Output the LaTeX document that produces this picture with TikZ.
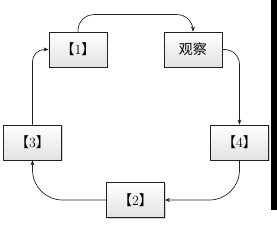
\documentclass[tikz,border=0pt]{standalone}
\usepackage{fontspec}
\newfontfamily\cjk{Noto Sans CJK SC}
\usetikzlibrary{arrows.meta,shadows}
\definecolor{ink}{HTML}{222222}
\definecolor{boxtop}{HTML}{FFFFFF}
\definecolor{boxbot}{HTML}{E2E2E2}
\newcommand{\bkt}[1]{{\cjk 【}#1{\cjk 】}}
\tikzset{
  stage/.style={draw=ink, line width=0.8pt, minimum width=58pt, minimum height=35pt, inner sep=0pt, top color=boxtop, bottom color=boxbot, drop shadow={shadow xshift=1.2pt, shadow yshift=-1.2pt, opacity=.35}, font=\fontsize{14}{16}\selectfont},
  arrow/.style={-{Stealth[length=5pt,width=4pt]}, draw=ink, line width=0.7pt}
}

\begin{document}
\begin{tikzpicture}[x=1pt, y=1pt]
  \useasboundingbox (0,0) rectangle (277,225);

  \node[stage] (one) at (78,175.5) {\bkt{1}};
  \node[stage] (watch) at (193,175.5) {\cjk 观察};
  \node[stage] (four) at (239.5,82.5) {\bkt{4}};
  \node[stage] (two) at (135.5,25) {\bkt{2}};
  \node[stage] (three) at (32.5,82.5) {\bkt{3}};

  \draw[arrow, rounded corners=16pt] (one.north) -- ++(0,17) -| (watch.north);
  \draw[arrow, rounded corners=15pt] (watch.east) -| (four.north);
  \draw[arrow, rounded corners=30pt] (four.south) |- (two.east);
  \draw[arrow, rounded corners=30pt] (two.west) -| (three.south);
  \draw[arrow, rounded corners=12pt] (three.north) |- (one.west);

  % dark edge at the right
  \fill[black] (271,15) rectangle (277,225);
\end{tikzpicture}
\end{document}
